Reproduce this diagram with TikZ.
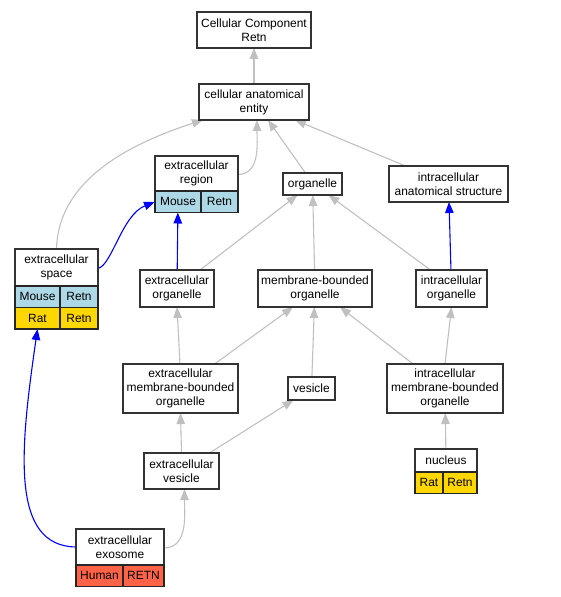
\documentclass[tikz,border=0pt]{standalone}
\usepackage{fontspec}
\setmainfont{Liberation Sans}
\usetikzlibrary{arrows.meta,backgrounds}
\definecolor{edgegray}{HTML}{C0C0C0}
\definecolor{mousecol}{HTML}{ADD8E6}
\definecolor{ratcol}{HTML}{FFD700}
\definecolor{humancol}{HTML}{FF6347}

\begin{document}
\begin{tikzpicture}[x=1bp,y=-1bp,
  term/.style={draw=black!80,line width=1.2bp,fill=white,align=center,inner sep=1bp,
    outer sep=0pt,font=\fontsize{12}{14}\selectfont},
  cell/.style={draw=black!85,line width=1.1bp,inner sep=0pt,outer sep=0pt,minimum height=21.5bp,
    anchor=north west,font=\fontsize{12}{14}\selectfont},
  mouse/.style={cell,fill=mousecol},
  rat/.style={cell,fill=ratcol},
  human/.style={cell,fill=humancol},
  isa/.style={draw=edgegray,line width=1.1bp,-{Triangle[length=11bp,width=8.5bp]}},
  ortho/.style={draw=blue,line width=1.1bp,-{Triangle[length=11bp,width=8.5bp]}}]
  \useasboundingbox (0,0) rectangle (561,597);

  \node[term,minimum width=114bp,minimum height=36bp] (root) at (254,30) {Cellular Component\\Retn};
  \node[term,minimum width=110bp,minimum height=36bp] (entity) at (254,102) {cellular anatomical\\entity};

  \node[term,minimum width=83bp,minimum height=35bp] (extreg) at (196.5,173.5) {extracellular\\region};
  \node[mouse,minimum width=46bp] (extregM) at (extreg.south west) {Mouse};
  \node[mouse,minimum width=37bp] (extregMg) at (extregM.north east) {Retn};

  \node[term,minimum width=59bp,minimum height=22bp] (organelle) at (312.5,184) {organelle};
  \node[term,minimum width=119bp,minimum height=36bp] (intanat) at (448.5,184) {intracellular\\anatomical structure};

  \node[term,minimum width=83bp,minimum height=37bp] (extspace) at (56.5,267.5) {extracellular\\space};
  \node[mouse,minimum width=45bp] (extspaceM) at (extspace.south west) {Mouse};
  \node[mouse,minimum width=38bp] (extspaceMg) at (extspaceM.north east) {Retn};
  \node[rat,minimum width=45bp] (extspaceR) at (extspaceM.south west) {Rat};
  \node[rat,minimum width=38bp] (extspaceRg) at (extspaceR.north east) {Retn};

  \node[term,minimum width=74bp,minimum height=37bp] (extorg) at (177,288.5) {extracellular\\organelle};
  \node[term,minimum width=114bp,minimum height=37bp] (memborg) at (315,288.5) {membrane-bounded\\organelle};
  \node[term,minimum width=71bp,minimum height=37bp] (intorg) at (451.5,288.5) {intracellular\\organelle};

  \node[term,minimum width=115bp,minimum height=49bp] (extmemb) at (180.5,388.5) {extracellular\\membrane-bounded\\organelle};
  \node[term,minimum width=47bp,minimum height=23bp] (vesicle) at (311.5,388.5) {vesicle};
  \node[term,minimum width=116bp,minimum height=49bp] (intmemb) at (445,388.5) {intracellular\\membrane-bounded\\organelle};

  \node[term,minimum width=75bp,minimum height=36bp] (extves) at (181.5,471) {extracellular\\vesicle};

  \node[term,minimum width=62bp,minimum height=23bp] (nucleus) at (446,460.5) {nucleus};
  \node[rat,minimum width=28bp] (nucleusR) at (nucleus.south west) {Rat};
  \node[rat,minimum width=34bp] (nucleusRg) at (nucleusR.north east) {Retn};

  \node[term,minimum width=88bp,minimum height=36bp] (exosome) at (120,547) {extracellular\\exosome};
  \node[human,minimum width=47bp] (exosomeH) at (exosome.south west) {Human};
  \node[human,minimum width=41bp] (exosomeHg) at (exosomeH.north east) {RETN};

  \begin{pgfonlayer}{background}
    \path[isa] (entity) -- (root);
    \path[isa] (extspace.north) .. controls (58,190) and (110,150) .. ([xshift=4bp]entity.south west);
    \path[isa] ([yshift=-1bp]extreg.east) to[out=0,in=-90] ([xshift=3bp]entity.south);
    \path[isa] ([xshift=-7bp]organelle.north) -- ([xshift=14bp]entity.south);
    \path[isa] ([xshift=-43bp]intanat.north) -- ([xshift=-14bp]entity.south east);
    \path[isa] ([xshift=23bp]extorg.north) -- ([xshift=-15bp]organelle.south);
    \path[isa] (memborg) -- (organelle);
    \path[isa] ([xshift=-21bp]intorg.north) -- ([xshift=16bp]organelle.south);
    \path[isa] ([xshift=-0.5bp]extmemb.north) -- (extorg.south);
    \path[isa] ([xshift=34bp]extmemb.north) -- ([xshift=-22bp]memborg.south);
    \path[isa] (vesicle) -- (memborg);
    \path[isa] ([xshift=-32bp]intmemb.north) -- ([xshift=25bp]memborg.south);
    \path[isa] (intmemb.north) -- (intorg.south);
    \path[isa] (extves.north) -- (extmemb.south);
    \path[isa] ([xshift=28bp]extves.north) -- ([xshift=-18bp]vesicle.south);
    \path[isa] (nucleus) -- (intmemb);
    \path[isa] ([yshift=-1bp]exosome.east) to[out=0,in=-90] ([xshift=3bp]extves.south);
    \path[ortho] (extorg) -- (extregM);
    \path[ortho] (intorg) -- (intanat);
    \path[ortho] ([yshift=-1bp]extspace.east) .. controls (112,265) and (122,215) .. (extregM.west);
    \path[ortho] (exosome.west) .. controls (10,546) and (20,450) .. (extspaceR.south);
  \end{pgfonlayer}
\end{tikzpicture}
\end{document}
